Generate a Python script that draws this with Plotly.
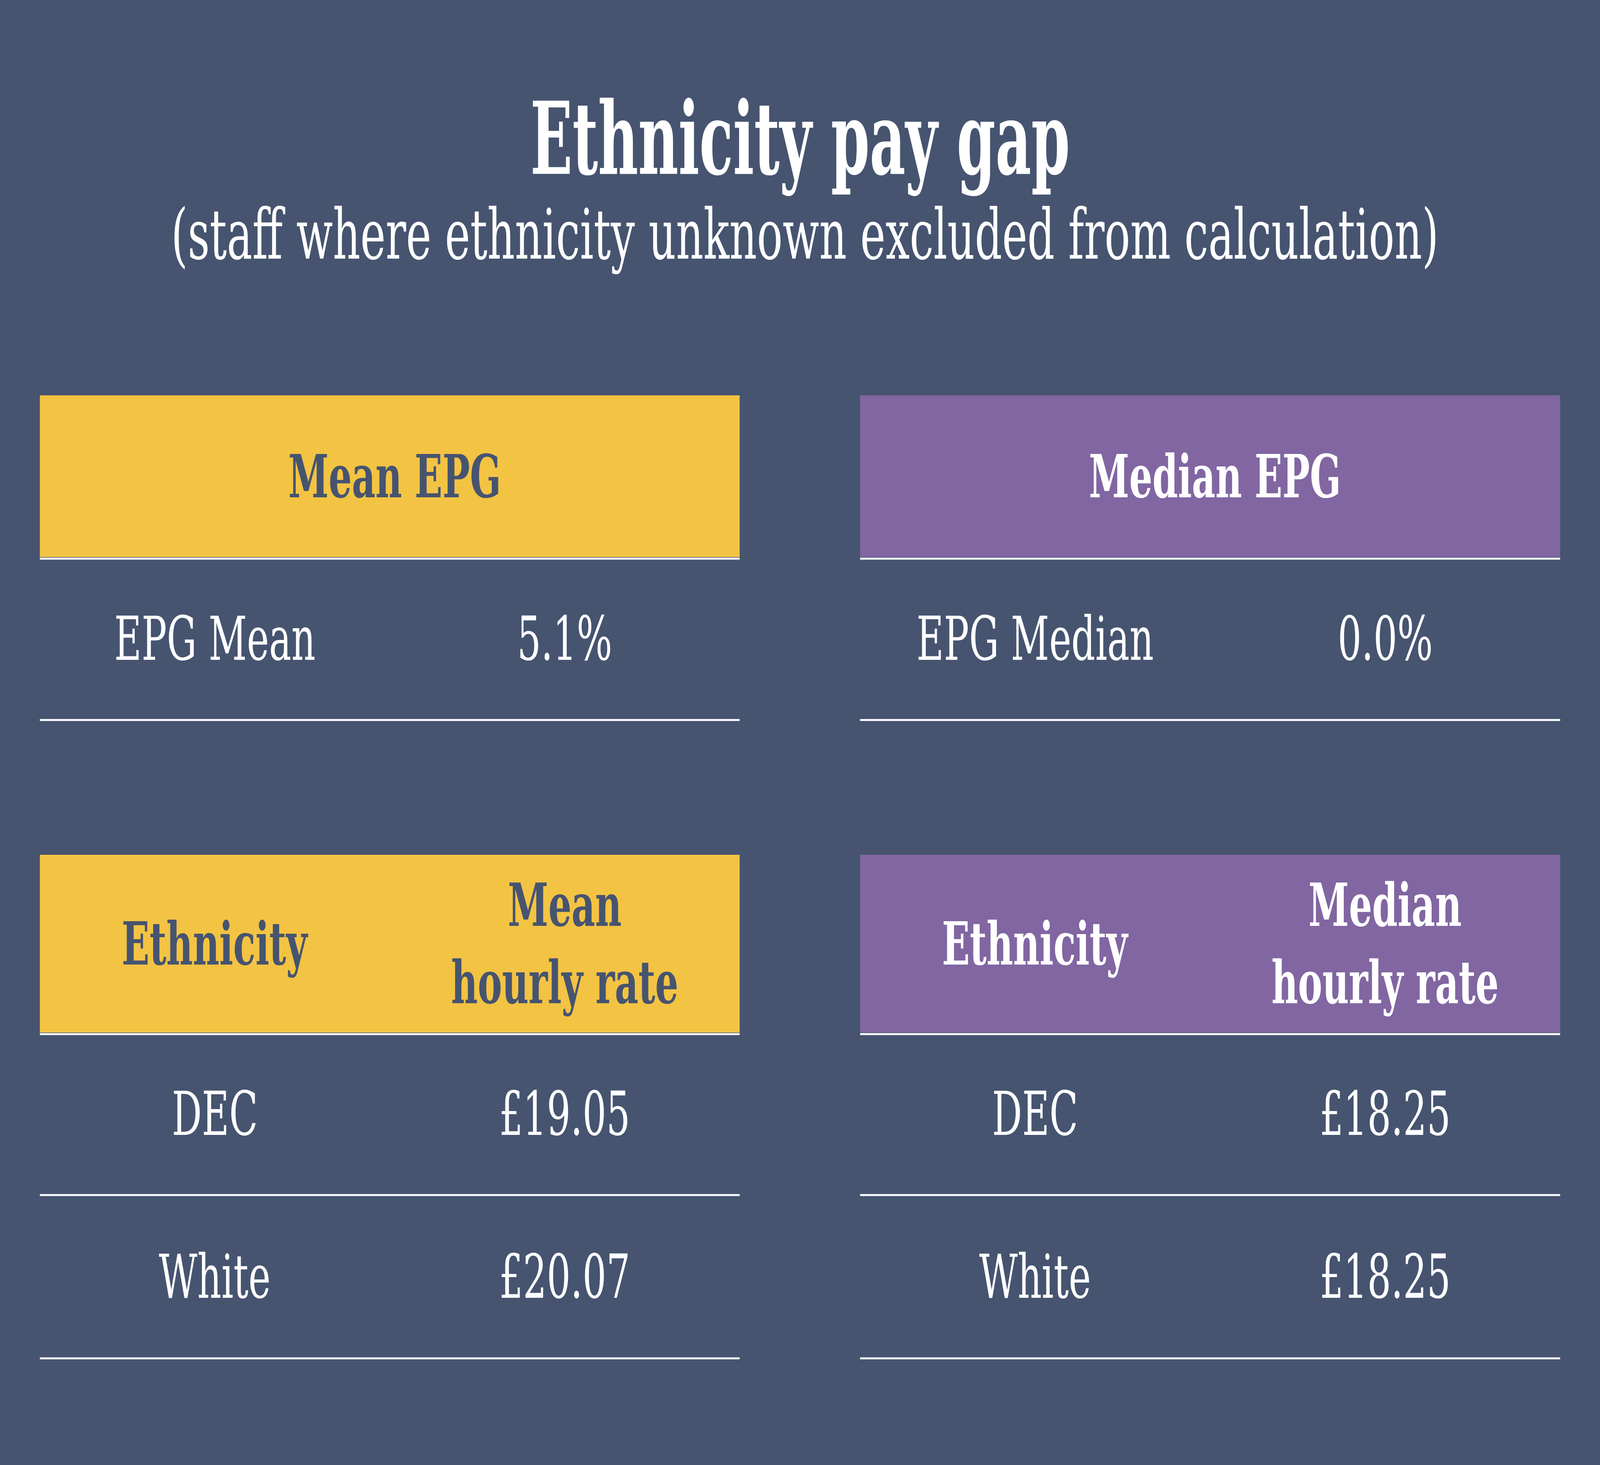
import plotly.graph_objects as go

# ---------------- data ----------------
title_text = "Ethnicity pay gap"
subtitle_text = "(staff where ethnicity unknown excluded from calculation)"

summary_headers = ["Mean EPG", "Median EPG"]
summary_labels = ["EPG Mean", "EPG Median"]
summary_values = [5.1, 0.0]

rate_col_header = "Ethnicity"
rate_headers = ["Mean<br>hourly rate", "Median<br>hourly rate"]
ethnicities = ["DEC", "White"]
mean_rates = [19.05, 20.07]
median_rates = [18.25, 18.25]

# ---------------- style ----------------
W, H = 6667, 3750
BG = "#465470"
YELLOW = "#F3C343"
PURPLE = "#8166A2"
WHITE = "#FFFFFF"
FONT = "DejaVu Serif, serif"
FONT_TITLE = "DejaVu Serif Condensed, DejaVu Serif, serif"

panel_x = [(166, 3082), (3584, 6501)]
header_fill = [YELLOW, PURPLE]
header_text_color = [BG, WHITE]

# vertical layout (px from top)
sum_top, sum_bot, sum_row = 1012, 1426, 1843
rate_top, rate_bot = 2188, 2643
rate_rows = [3059, 3477]
LW = 5
BODY_SIZE = 156
HEAD_SIZE = 152

fig = go.Figure()
shapes = []
ann = []


def add_text(x, y, text, size, color, bold=False, family=FONT):
    ann.append(dict(x=x, y=y, xref="x", yref="y", text=f"<b>{text}</b>" if bold else text,
                    showarrow=False, xanchor="center", yanchor="middle",
                    font=dict(family=family, size=size, color=color)))


def hline(x0, x1, y):
    shapes.append(dict(type="line", x0=x0, x1=x1, y0=y, y1=y, xref="x", yref="y",
                       line=dict(color=WHITE, width=LW), layer="above"))


rates = [mean_rates, median_rates]
for i, (x0, x1) in enumerate(panel_x):
    cx = (x0 + x1) / 2
    c1 = x0 + (x1 - x0) * 0.25
    c2 = x0 + (x1 - x0) * 0.75
    # summary table
    shapes.append(dict(type="rect", x0=x0, x1=x1, y0=sum_top, y1=sum_bot, xref="x", yref="y",
                       fillcolor=header_fill[i], line=dict(width=0), layer="below"))
    add_text(cx + 20, (sum_top + sum_bot) / 2, summary_headers[i], HEAD_SIZE, header_text_color[i], bold=True)
    hline(x0, x1, sum_bot + 4)
    hline(x0, x1, sum_row)
    ymid = (sum_bot + sum_row) / 2
    add_text(c1, ymid, summary_labels[i], BODY_SIZE, WHITE)
    add_text(c2, ymid, f"{summary_values[i]:.1f}%", BODY_SIZE, WHITE)

    # rate table
    shapes.append(dict(type="rect", x0=x0, x1=x1, y0=rate_top, y1=rate_bot, xref="x", yref="y",
                       fillcolor=header_fill[i], line=dict(width=0), layer="below"))
    hmid = (rate_top + rate_bot) / 2
    add_text(c1, hmid, rate_col_header, HEAD_SIZE, header_text_color[i], bold=True)
    add_text(c2, hmid, rate_headers[i], HEAD_SIZE, header_text_color[i], bold=True)
    hline(x0, x1, rate_bot + 4)
    prev = rate_bot
    for j, yl in enumerate(rate_rows):
        hline(x0, x1, yl)
        ym = (prev + yl) / 2
        add_text(c1, ym, ethnicities[j], BODY_SIZE, WHITE)
        add_text(c2, ym, f"£{rates[i][j]:.2f}", BODY_SIZE, WHITE)
        prev = yl

add_text(W / 2, 355, title_text, 256, WHITE, bold=True, family=FONT_TITLE)
add_text(W / 2 + 20, 600, subtitle_text, 178, WHITE)

fig.update_layout(
    width=W, height=H,
    margin=dict(l=0, r=0, t=0, b=0),
    paper_bgcolor=BG, plot_bgcolor=BG,
    xaxis=dict(range=[0, W], visible=False, fixedrange=True),
    yaxis=dict(range=[H, 0], visible=False, fixedrange=True),
    shapes=shapes, annotations=ann, showlegend=False,
)

# Fit the fixed 6667x3750 design to whatever viewport the page is opened in
fit_js = (
    "document.documentElement.style.overflow='hidden';"
    "document.body.style.margin='0';"
    "document.body.style.overflow='hidden';"
    f"document.body.style.background='{BG}';"
    "var gd=document.getElementById('{plot_id}');"
    f"var sx=window.innerWidth/{W}, sy=window.innerHeight/{H};"
    "gd.style.transformOrigin='0 0';"
    "gd.style.transform='scale('+sx+','+sy+')';"
)

fig.write_html(
    "out.html",
    config={"displayModeBar": False, "responsive": False},
    post_script=fit_js,
)
